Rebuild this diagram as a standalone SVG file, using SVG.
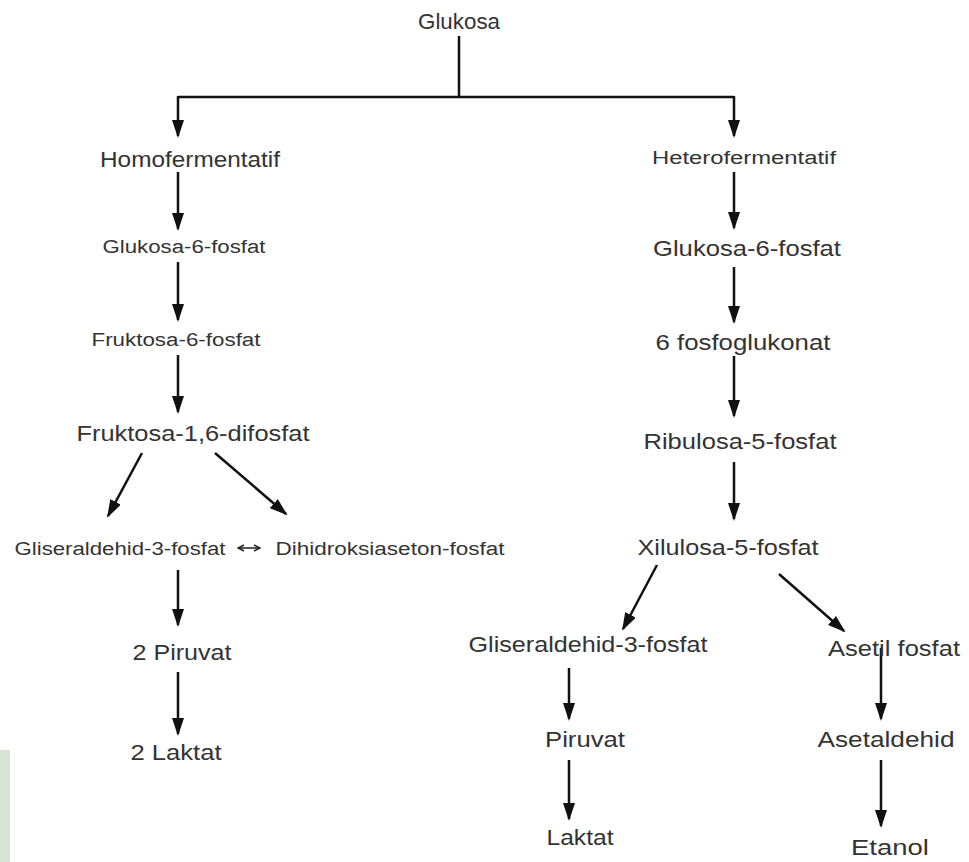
<svg xmlns="http://www.w3.org/2000/svg" width="969" height="862" viewBox="0 0 969 862">
<defs>
<marker id="ah" markerUnits="userSpaceOnUse" viewBox="0 0 18 12" markerWidth="18" markerHeight="12" refX="16" refY="6" orient="auto">
<path d="M0,0 L18,6 L0,12 z" fill="#111"/>
</marker>
<marker id="sm" markerUnits="userSpaceOnUse" viewBox="0 0 8 8" markerWidth="8" markerHeight="8" refX="7" refY="4" orient="auto-start-reverse">
<path d="M1,1 L7,4 L1,7" fill="none" stroke="#222" stroke-width="1.4"/>
</marker>
</defs>
<style>
text{font-family:"Liberation Sans",Arial,sans-serif;fill:#333;text-anchor:middle}
.l{font-size:22.5px}
.s{font-size:18px}
.c line,.c path{stroke:#111;stroke-width:2.5;fill:none}
.c .a{marker-end:url(#ah)}
</style>
<rect width="969" height="862" fill="#fff"/>
<rect x="0" y="750" width="10" height="112" fill="#d7e4d4"/>
<g class="c" id="connectors">
<path d="M459,36 V97"/>
<path d="M178,97 H734"/>
<path class="a" d="M178,96 V136"/>
<path class="a" d="M734,96 V136"/>
<line class="a" x1="178" y1="172" x2="178" y2="229"/>
<line class="a" x1="178" y1="262" x2="178" y2="320"/>
<line class="a" x1="178" y1="355" x2="178" y2="412"/>
<line class="a" x1="142" y1="453" x2="108" y2="516"/>
<line class="a" x1="215" y1="453" x2="286" y2="514"/>
<line x1="238" y1="548" x2="260" y2="548" style="stroke-width:1.4;marker-start:url(#sm);marker-end:url(#sm)"/>
<line class="a" x1="178" y1="570" x2="178" y2="625"/>
<line class="a" x1="178" y1="672" x2="178" y2="734"/>
<line class="a" x1="734" y1="172" x2="734" y2="228"/>
<line class="a" x1="734" y1="267" x2="734" y2="322"/>
<line class="a" x1="734" y1="356" x2="734" y2="416"/>
<line class="a" x1="734" y1="462" x2="734" y2="519"/>
<line class="a" x1="657" y1="565" x2="623" y2="629"/>
<line class="a" x1="779" y1="574" x2="844" y2="631"/>
<line class="a" x1="569" y1="668" x2="569" y2="719"/>
<line class="a" x1="569" y1="760" x2="569" y2="819"/>
<line class="a" x1="881" y1="648" x2="881" y2="719"/>
<line class="a" x1="881" y1="760" x2="881" y2="826"/>
</g>
<g id="glukosa"><text class="l" x="459" y="29" textLength="82" lengthAdjust="spacingAndGlyphs">Glukosa</text></g>
<g id="homo"><text class="l" x="190" y="167" textLength="180" lengthAdjust="spacingAndGlyphs">Homofermentatif</text></g>
<g id="hetero"><text class="s" x="744" y="164" textLength="184" lengthAdjust="spacingAndGlyphs">Heterofermentatif</text></g>
<g id="g6p-l"><text class="s" x="184" y="253" textLength="163" lengthAdjust="spacingAndGlyphs">Glukosa-6-fosfat</text></g>
<g id="f6p"><text class="s" x="176" y="346" textLength="169" lengthAdjust="spacingAndGlyphs">Fruktosa-6-fosfat</text></g>
<g id="f16"><text class="l" x="193" y="441" textLength="233" lengthAdjust="spacingAndGlyphs">Fruktosa-1,6-difosfat</text></g>
<g id="gap-l"><text class="s" x="120" y="555" textLength="211" lengthAdjust="spacingAndGlyphs">Gliseraldehid-3-fosfat</text></g>
<g id="dhap"><text class="s" x="390" y="555" textLength="229" lengthAdjust="spacingAndGlyphs">Dihidroksiaseton-fosfat</text></g>
<g id="piruvat2"><text class="l" x="182" y="660" textLength="99" lengthAdjust="spacingAndGlyphs">2 Piruvat</text></g>
<g id="laktat2"><text class="l" x="176" y="760" textLength="91" lengthAdjust="spacingAndGlyphs">2 Laktat</text></g>
<g id="g6p-r"><text class="l" x="747" y="256" textLength="188" lengthAdjust="spacingAndGlyphs">Glukosa-6-fosfat</text></g>
<g id="6pg"><text class="l" x="743" y="350" textLength="175" lengthAdjust="spacingAndGlyphs">6 fosfoglukonat</text></g>
<g id="ru5p"><text class="l" x="740" y="449" textLength="193" lengthAdjust="spacingAndGlyphs">Ribulosa-5-fosfat</text></g>
<g id="xu5p"><text class="l" x="728" y="555" textLength="181" lengthAdjust="spacingAndGlyphs">Xilulosa-5-fosfat</text></g>
<g id="gap-r"><text class="l" x="588" y="652" textLength="239" lengthAdjust="spacingAndGlyphs">Gliseraldehid-3-fosfat</text></g>
<g id="asetilfosfat"><text class="l" x="894" y="656" textLength="132" lengthAdjust="spacingAndGlyphs">Asetil fosfat</text></g>
<g id="piruvat"><text class="l" x="585" y="747" textLength="80" lengthAdjust="spacingAndGlyphs">Piruvat</text></g>
<g id="asetaldehid"><text class="l" x="886" y="747" textLength="137" lengthAdjust="spacingAndGlyphs">Asetaldehid</text></g>
<g id="laktat"><text class="l" x="580" y="845" textLength="67" lengthAdjust="spacingAndGlyphs">Laktat</text></g>
<g id="etanol"><text class="l" x="890" y="855" textLength="78" lengthAdjust="spacingAndGlyphs">Etanol</text></g>
</svg>
